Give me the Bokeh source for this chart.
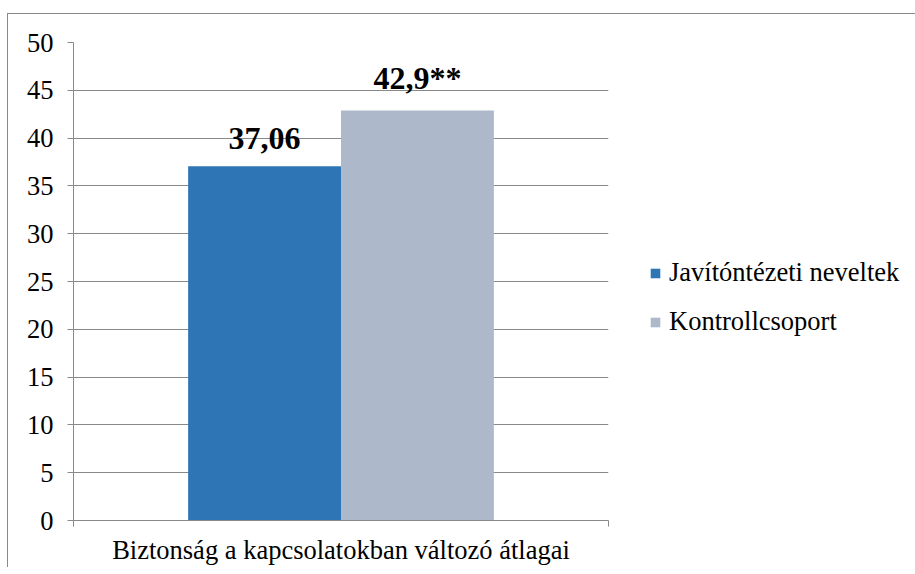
from bokeh.plotting import figure
from bokeh.models import Range1d, FixedTicker, Legend, LegendItem
from bokeh.core.properties import value
from bokeh.embed import file_html
from bokeh.resources import INLINE

# ---- data ----
category = "Biztonság a kapcsolatokban változó átlagai"
series = ["Javítóntézeti neveltek", "Kontrollcsoport"]
values = [37.06, 42.9]
labels = ["37,06", "42,9**"]
colors = ["#2E75B6", "#ADB9CA"]
y_ticks = [0, 5, 10, 15, 20, 25, 30, 35, 40, 45, 50]

FONT = "Liberation Serif"
GRID = "#898989"
FS = "26.5px"

gap = 1.5
bw = 1.0 / (len(values) + gap)
xs = [0.5 - bw / 2 + i * bw for i in range(len(values))]
label_offsets = [-28, -32]

p = figure(output_backend="svg", toolbar_location=None,
           frame_width=535, frame_height=478,
           min_border_left=65, min_border_right=298,
           min_border_top=28, min_border_bottom=45,
           x_range=Range1d(0, 1), y_range=Range1d(0, 50))
p.styles = {"margin-top": "13px", "margin-left": "7px",
            "border-top": f"1px solid {GRID}", "border-left": f"1px solid {GRID}"}
p.outline_line_color = None
p.background_fill_color = "white"
p.border_fill_color = "white"

renderers = []
for i in range(len(values)):
    r = p.vbar(x=[xs[i]], top=[values[i]], width=bw, bottom=0,
               fill_color=colors[i], line_color=None)
    renderers.append(r)
    p.text(x=[xs[i]], y=[values[i]], text=[labels[i]],
           text_font=value(FONT), text_font_size="32px", text_font_style="bold",
           text_align="center", text_baseline="alphabetic",
           y_offset=label_offsets[i], text_color="black")

# axes
p.yaxis.ticker = FixedTicker(ticks=y_ticks)
p.yaxis.major_label_text_font = FONT
p.yaxis.major_label_text_font_size = FS
p.yaxis.major_label_text_color = "black"
p.yaxis.major_tick_out = 6
p.yaxis.major_tick_in = 0
p.yaxis.minor_tick_line_color = None
p.yaxis.axis_line_color = GRID
p.yaxis.major_tick_line_color = GRID
p.yaxis.major_label_standoff = 14

p.xaxis.ticker = FixedTicker(ticks=[0, 1])
p.xaxis.major_label_overrides = {0: "", 1: ""}
p.xaxis.major_label_text_font_size = "1px"
p.xaxis.major_tick_out = 6
p.xaxis.major_tick_in = 0
p.xaxis.minor_tick_line_color = None
p.xaxis.axis_line_color = GRID
p.xaxis.major_tick_line_color = GRID
p.xaxis.axis_label = category
p.xaxis.axis_label_text_font = FONT
p.xaxis.axis_label_text_font_size = FS
p.xaxis.axis_label_text_font_style = "normal"
p.xaxis.axis_label_text_color = "black"
p.xaxis.axis_label_standoff = 8

p.xgrid.grid_line_color = None
p.ygrid.ticker = FixedTicker(ticks=y_ticks)
p.ygrid.grid_line_color = GRID

legend = Legend(items=[LegendItem(label=series[i], renderers=[renderers[i]]) for i in range(len(series))],
                location=(41, 183), orientation="vertical",
                label_text_font=FONT, label_text_font_size=FS,
                label_text_font_style="normal",
                label_text_color="black",
                glyph_width=12, glyph_height=12, label_standoff=8,
                spacing=18, padding=0, margin=0,
                border_line_color=None, background_fill_alpha=0)
p.add_layout(legend, "right")

open("out.html", "w").write(file_html(p, INLINE))
